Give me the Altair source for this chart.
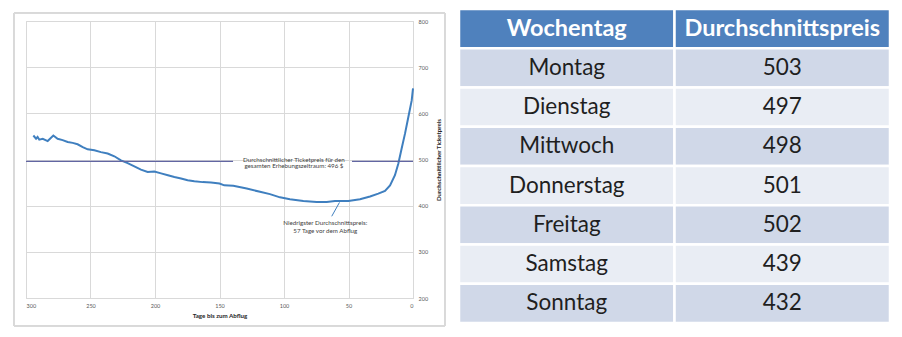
import altair as alt
import pandas as pd

# ---- line chart data ----
days = [294.3, 292.2, 291.0, 289.7, 287.0, 283.2, 278.8, 275.5, 271.6, 267.7,
        263.8, 260.0, 256.0, 252.2, 247.0, 241.9, 236.7, 231.5, 226.4, 221.2,
        216.0, 210.9, 205.7, 200.5, 195.3, 190.0, 185.0, 179.8, 174.7, 169.5,
        163.0, 156.6, 150.0, 146.3, 139.3, 128.9, 118.6, 110.9, 103.1, 95.4,
        85.0, 74.7, 66.9, 60.5, 56.6, 50.1, 41.1, 33.3, 26.9, 21.7,
        17.8, 14.0, 11.4, 8.8, 6.2, 3.6, 1.0, 0.0]
price = [552, 545, 549, 543, 545, 540, 552, 545, 542, 538,
         536, 533, 527, 522, 520, 516, 513, 507, 498, 492,
         485, 478, 473, 474, 470, 466, 462, 459, 455, 453,
         451, 450, 448, 444, 443, 437, 430, 425, 418, 414,
         410, 408, 408, 410, 410, 410, 414, 420, 426, 432,
         444, 466, 491, 524, 556, 592, 628, 654]

mean_price = 496
mean_seg_start = [300, 47.3]
mean_seg_end = [139.5, 0]

avg_label = ["Durchschnittlicher Ticketpreis für den", "gesamten Erhebungszeitraum:   496 $"]
avg_label_day = [92.3, 92.3]
avg_label_price = [500, 485]

min_label = ["Niedrigster Durchschnittspreis:", "57 Tage vor dem Abflug"]
min_label_day = [68, 68]
min_label_price = [362, 345]
leader_day = [57, 63]
leader_price = [407, 377]

x_title = "Tage bis zum Abflug"
y_title = "Durchschnittlicher Ticketpreis"

# ---- table data ----
header = ["Wochentag", "Durchschnittspreis"]
weekdays = ["Montag", "Dienstag", "Mittwoch", "Donnerstag", "Freitag", "Samstag", "Sonntag"]
avg_prices = [503, 497, 498, 501, 502, 439, 432]

line_df = pd.DataFrame({"day": days, "price": price})
mean_df = pd.DataFrame({"d1": mean_seg_start, "d2": mean_seg_end, "p": [mean_price] * 2})
avg_df = pd.DataFrame({"t": avg_label, "day": avg_label_day, "price": avg_label_price})
min_df = pd.DataFrame({"t": min_label, "day": min_label_day, "price": min_label_price})
lead_df = pd.DataFrame({"day": leader_day, "price": leader_price})

rows = []
row_names = ["h"] + weekdays
for c, name in enumerate(header):
    rows.append({"col": name, "row": "h", "txt": name, "kind": "header"})
for i, (d, v) in enumerate(zip(weekdays, avg_prices)):
    kind = "band1" if i % 2 == 0 else "band2"
    rows.append({"col": header[0], "row": d, "txt": d, "kind": kind})
    rows.append({"col": header[1], "row": d, "txt": str(v), "kind": kind})
table_df = pd.DataFrame(rows)

GRID = "#d9d9d9"
FONT = "Lato"

xs = alt.Scale(domain=[0, 300], reverse=True, nice=False, zero=False)
ys = alt.Scale(domain=[200, 800], nice=False, zero=False)

xaxis = alt.Axis(values=[0, 50, 100, 150, 200, 250, 300], title=x_title, grid=True,
                 gridColor=GRID, domainColor=GRID, ticks=False, labelFontSize=5.5,
                 labelColor="#595959", labelPadding=5, titleFontSize=6.2, titleFontWeight="bold",
                 titleColor="#262626", titlePadding=4, labelFont=FONT, titleFont=FONT)
yaxis = alt.Axis(orient="right", values=[200, 300, 400, 500, 600, 700, 800], title=y_title,
                 grid=True, gridColor=GRID, domainColor=GRID, ticks=False, labelFontSize=5.5,
                 labelColor="#595959", labelPadding=5, titleFontSize=6.2, titleFontWeight="bold",
                 titleColor="#262626", titlePadding=14, titleAngle=270, labelFont=FONT, titleFont=FONT)

frame = alt.Chart(line_df).mark_rect(fill="white", fillOpacity=0, stroke=GRID, strokeWidth=1).encode(
    x=alt.value(-12), x2=alt.value(419), y=alt.value(-8), y2=alt.value(305))

base_line = alt.Chart(line_df).mark_line(color="#3f7fbf", strokeWidth=2).encode(
    x=alt.X("day:Q", scale=xs, axis=xaxis),
    y=alt.Y("price:Q", scale=ys, axis=yaxis))

mean_rule = alt.Chart(mean_df).mark_rule(color="#6266a2", strokeWidth=1.2).encode(
    x=alt.X("d1:Q", scale=xs), x2="d2:Q", y=alt.Y("p:Q", scale=ys))

avg_txt = alt.Chart(avg_df).mark_text(fontSize=6.2, color="#404040", font=FONT).encode(
    x=alt.X("day:Q", scale=xs), y=alt.Y("price:Q", scale=ys), text="t:N")

min_txt = alt.Chart(min_df).mark_text(fontSize=6.2, color="#404040", font=FONT).encode(
    x=alt.X("day:Q", scale=xs), y=alt.Y("price:Q", scale=ys), text="t:N")

leader = alt.Chart(lead_df).mark_line(color="#3f7fbf", strokeWidth=1).encode(
    x=alt.X("day:Q", scale=xs), y=alt.Y("price:Q", scale=ys))

plot = alt.layer(frame, base_line, mean_rule, avg_txt, min_txt, leader)

tx = alt.X("col:N", sort=header, axis=None,
           scale=alt.Scale(range=[433, 864], paddingInner=0, paddingOuter=0))
ty = alt.Y("row:N", sort=row_names, axis=None,
           scale=alt.Scale(range=[-12, 302], paddingInner=0, paddingOuter=0))

cells = alt.Chart(table_df).mark_rect(stroke="white", strokeWidth=2.5).encode(
    x=tx, y=ty,
    color=alt.Color("kind:N", legend=None,
                    scale=alt.Scale(domain=["header", "band1", "band2"],
                                    range=["#4f81bd", "#d0d8e8", "#e9edf4"])))

head_txt = alt.Chart(table_df).transform_filter(alt.datum.kind == "header").mark_text(
    font=FONT, fontSize=23.5, fontWeight="bold", color="white").encode(x=tx, y=ty, text="txt:N")

body_txt = alt.Chart(table_df).transform_filter(alt.datum.kind != "header").mark_text(
    font=FONT, fontSize=22.5, color="#1f1f1f").encode(x=tx, y=ty, text="txt:N")

table = alt.layer(cells, head_txt, body_txt)

chart = alt.layer(plot, table).resolve_scale(x="independent", y="independent", color="independent").properties(
    width=387, height=277,
    autosize=alt.AutoSizeParams(type="none"),
    padding={"left": 26, "top": 21, "right": 489, "bottom": 39},
    background="white",
).configure_view(stroke=GRID)

chart.save("out.html", embed_options={"renderer": "svg", "actions": False})
